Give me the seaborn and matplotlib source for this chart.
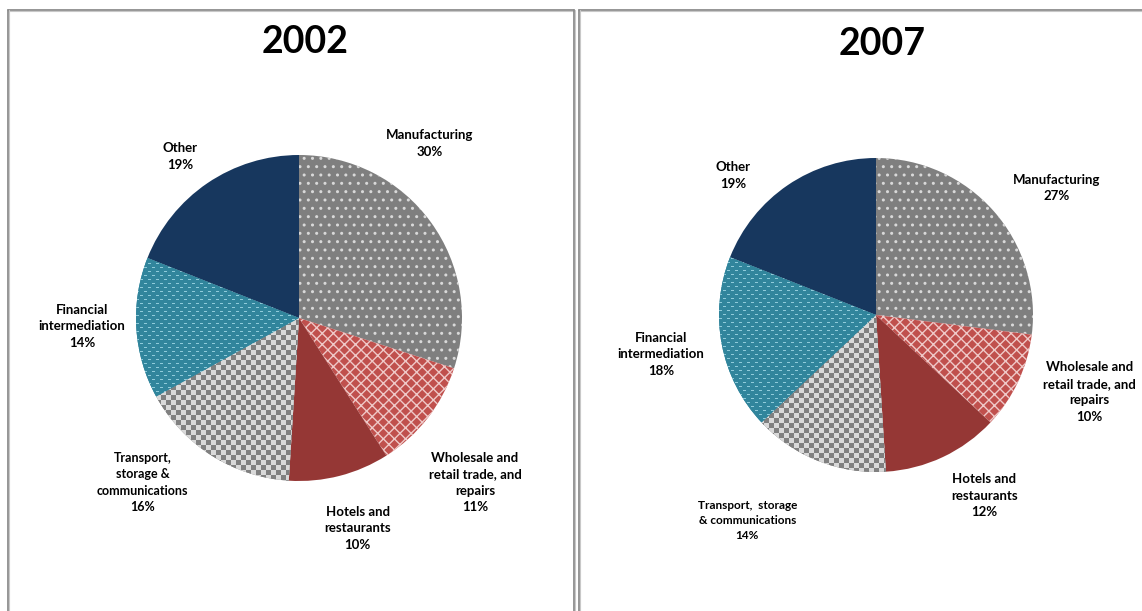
import numpy as np
import seaborn as sns
import matplotlib.pyplot as plt
from matplotlib.lines import Line2D

# Data
sectors = ['Manufacturing', 'Wholesale and retail trade, and repairs', 'Hotels and restaurants',
           'Transport, storage & communications', 'Financial intermediation', 'Other']
share_2002 = [30, 11, 10, 16, 14, 19]
share_2007 = [27, 10, 12, 14, 18, 19]

# label text as it is broken over lines in each chart
labels_2002 = ['Manufacturing', 'Wholesale and\nretail trade, and\nrepairs', 'Hotels and\nrestaurants',
               'Transport,\nstorage &\ncommunications', 'Financial\nintermediation', 'Other']
labels_2007 = ['Manufacturing', 'Wholesale and\nretail trade, and\nrepairs', 'Hotels and\nrestaurants',
               'Transport,  storage\n& communications', 'Financial\nintermediation', 'Other']

# Styling
sns.set_style('white')
plt.rcParams['font.family'] = ['Lato', 'DejaVu Sans']

W, H = 1142, 611
base_cols = ['#7F7F7F', '#C0504D', '#953735', '#808080', '#31859C', '#17375E']

# label positions relative to the pie (units of radius)
pos_2002 = [(0.80, 1.07), (1.08, -1.01), (0.36, -1.29), (-0.96, -1.01), (-1.33, -0.05), (-0.73, 0.99)]
pos_2007 = [(1.15, 0.81), (1.36, -0.49), (0.69, -1.15), (-0.82, -1.31), (-1.37, -0.25), (-0.91, 0.89)]


def texture(n, kind, c1, c2):
    # small repeating fill patterns (checkerboard and staggered dashes)
    yy, xx = np.mgrid[0:n, 0:n]
    if kind == 'checker':
        mask = ((xx // 5 + yy // 5) % 2) == 0
    else:
        row = yy % 8
        mask = ((row == 0) & (xx % 8 < 3)) | ((row == 4) & ((xx + 4) % 8 < 3))
    img = np.zeros((n, n, 3))
    img[:] = plt.matplotlib.colors.to_rgb(c1)
    img[mask] = plt.matplotlib.colors.to_rgb(c2)
    return img


def draw_pie(cx, cy, r, values, labels, positions, title, title_y, small):
    ax = fig.add_axes([(cx - r) / W, 1 - (cy + r) / H, 2 * r / W, 2 * r / H])
    wedges, _ = ax.pie(values, colors=base_cols, startangle=90, counterclock=False,
                       radius=1, wedgeprops=dict(linewidth=0))

    # patterns
    wedges[0].set_hatch('..')
    wedges[0].set_edgecolor('#D9D9D9')
    wedges[0].set_linewidth(0)
    wedges[1].set_hatch('xxx')
    wedges[1].set_edgecolor('#EFC9C8')
    wedges[1].set_linewidth(0)
    n = int(2 * r)
    for i, kind, c1, c2 in [(3, 'checker', '#808080', '#D9D9D9'), (4, 'dash', '#31859C', '#8FCBDA')]:
        im = ax.imshow(texture(n, kind, c1, c2), extent=[-1, 1, -1, 1], interpolation='nearest',
                       zorder=wedges[i].get_zorder() + 0.1)
        im.set_clip_path(wedges[i])
    ax.set_xlim(-1, 1)
    ax.set_ylim(-1, 1)
    ax.axis('off')

    for i, (lab, v, (px, py)) in enumerate(zip(labels, values, positions)):
        size = small if i == 3 else 9.5
        ax.text(px, py, f'{lab}\n{v}%', ha='center', va='center', fontsize=size,
                fontweight='bold', linespacing=1.45, color='black')

    fig.text((cx + 6) / W, 1 - title_y / H, title, ha='center', va='center',
             fontsize=27, fontweight='bold', color='black')


fig = plt.figure(figsize=(W / 100, H / 100), dpi=100)
fig.patch.set_facecolor('white')

draw_pie(299, 318, 163, share_2002, labels_2002, pos_2002, '2002', 42, 9)
draw_pie(876, 315, 157, share_2007, labels_2007, pos_2007, '2007', 44, 8.5)

# panel borders
def fline(x0, y0, x1, y1):
    for off, col, lw in [(0, '#8C8C8C', 1.3), (1.2, '#C8C8C8', 0.8)]:
        dx = off if x0 == x1 else 0
        dy = off if y0 == y1 else 0
        fig.add_artist(Line2D([(x0 + dx) / W, (x1 + dx) / W], [1 - (y0 + dy) / H, 1 - (y1 + dy) / H],
                              color=col, linewidth=lw))

fline(8, 10, 574, 10)
fline(8, 10, 8, H)
fline(574, 10, 574, H)
fline(579, 10, W, 10)
fline(579, 10, 579, H)

plt.savefig('out.png', dpi=100)
